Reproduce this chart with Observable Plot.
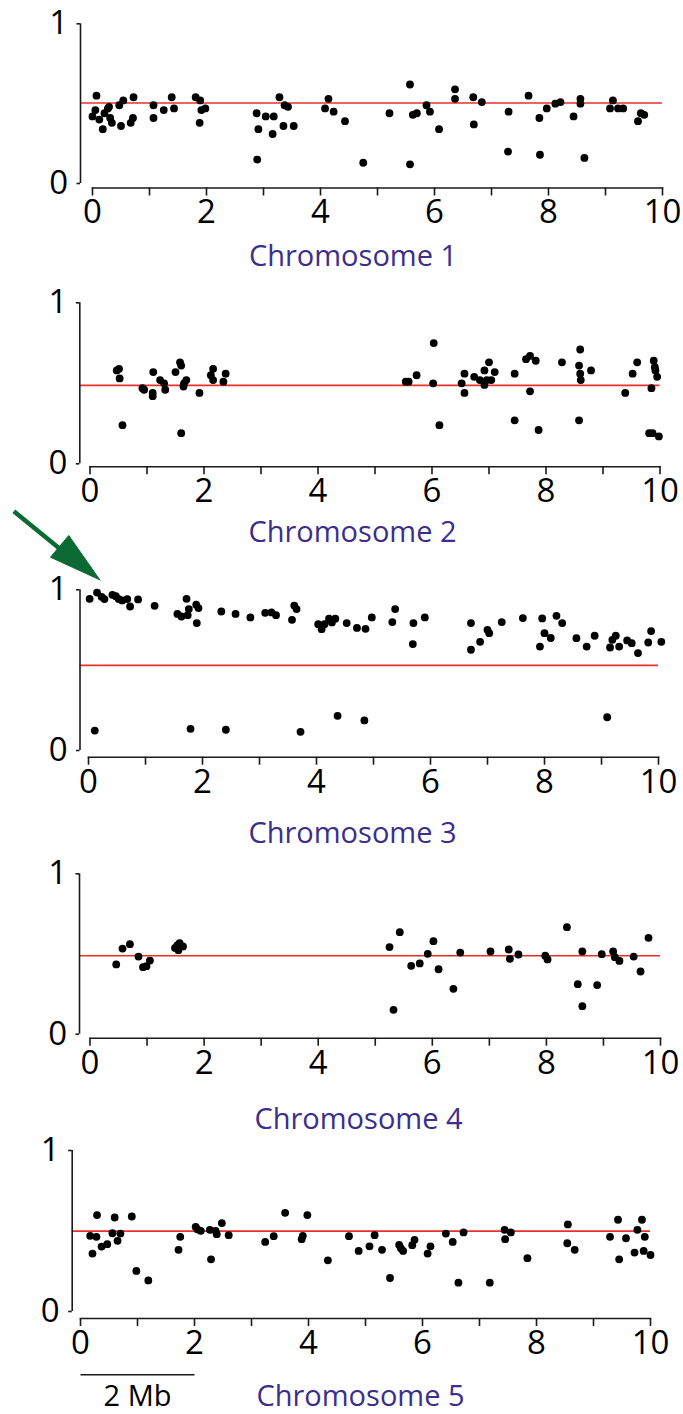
<!DOCTYPE html>
<html><head><meta charset="utf-8">
<script src="https://cdn.jsdelivr.net/npm/d3@7"></script>
<script src="https://cdn.jsdelivr.net/npm/@observablehq/plot@0.6"></script>
<style>
body{margin:0;background:#fff;}
#chart{position:relative;width:683px;height:1414px;overflow:hidden;background:#fff;}
#chart svg{position:absolute;left:0;}
</style></head><body><div id="chart"></div>
<script>
// ---------- data ----------
const chromosomes = ["Chromosome 1", "Chromosome 2", "Chromosome 3", "Chromosome 4", "Chromosome 5"];
const xTicks = [0, 1, 2, 3, 4, 5, 6, 7, 8, 9, 10];
const xTickLabels = ["0", "", "2", "", "4", "", "6", "", "8", "", "10"];
const yTicks = [0, 1];
const yTickLabels = ["0", "1"];
const thresholds = [0.504, 0.487, 0.53, 0.489, 0.499];

const chr1Pos = [0.00,0.05,0.07,0.12,0.18,0.21,0.27,0.29,0.31,0.34,0.47,0.50,0.54,0.67,0.71,0.72,1.07,1.07,1.25,1.39,1.43,1.81,1.89,1.88,1.91,1.98,2.88,2.89,2.91,3.04,3.18,3.16,3.28,3.37,3.43,3.35,3.53,4.08,4.14,4.23,4.43,4.75,5.21,5.57,5.57,5.62,5.69,5.86,5.92,6.08,6.36,6.36,6.68,6.69,6.83,7.30,7.29,7.65,7.84,7.85,7.97,8.12,8.21,8.44,8.56,8.56,8.63,9.08,9.13,9.22,9.31,9.57,9.62,9.68];
const chr1Frac = [0.42,0.46,0.55,0.40,0.34,0.44,0.47,0.48,0.41,0.38,0.49,0.36,0.52,0.38,0.41,0.54,0.49,0.41,0.46,0.54,0.47,0.54,0.52,0.38,0.46,0.47,0.44,0.15,0.34,0.42,0.42,0.31,0.54,0.49,0.48,0.36,0.36,0.47,0.53,0.45,0.39,0.13,0.44,0.62,0.12,0.43,0.44,0.49,0.45,0.34,0.59,0.53,0.54,0.37,0.51,0.45,0.20,0.55,0.41,0.18,0.47,0.50,0.51,0.42,0.53,0.50,0.16,0.47,0.52,0.47,0.47,0.39,0.44,0.43];

const chr2Pos = [0.47,0.51,0.52,0.57,0.92,0.95,1.10,1.10,1.11,1.23,1.30,1.32,1.50,1.58,1.60,1.60,1.64,1.65,1.69,1.92,2.12,2.16,2.16,2.34,2.38,5.54,5.59,5.73,6.03,6.02,6.13,6.52,6.57,6.57,6.74,6.84,6.92,6.92,6.96,7.00,7.04,7.10,7.45,7.45,7.65,7.72,7.72,7.82,7.87,8.28,8.60,8.58,8.60,8.61,8.58,8.79,9.39,9.52,9.60,9.85,9.89,9.91,9.92,9.95,9.81,9.87,9.98];
const chr2Frac = [0.58,0.59,0.53,0.24,0.47,0.46,0.44,0.42,0.57,0.52,0.50,0.46,0.57,0.63,0.61,0.19,0.48,0.50,0.52,0.44,0.55,0.59,0.52,0.51,0.56,0.51,0.51,0.55,0.75,0.50,0.24,0.50,0.56,0.44,0.54,0.52,0.58,0.49,0.52,0.63,0.52,0.57,0.56,0.27,0.65,0.67,0.45,0.64,0.21,0.63,0.71,0.61,0.56,0.52,0.27,0.58,0.44,0.56,0.63,0.47,0.64,0.60,0.58,0.54,0.19,0.19,0.17];

const chr3Pos = [0.02,0.11,0.15,0.23,0.28,0.42,0.48,0.53,0.59,0.68,0.73,0.87,1.16,1.56,1.63,1.72,1.74,1.76,1.79,1.89,1.93,1.90,2.33,2.58,2.41,2.84,3.10,3.21,3.29,3.57,3.61,3.65,3.72,4.03,4.09,4.14,4.22,4.27,4.33,4.37,4.53,4.71,4.86,4.84,4.97,5.33,5.38,5.69,5.70,5.90,6.71,6.71,6.87,7.00,7.03,7.25,7.62,7.96,7.92,8.00,8.11,8.21,8.31,8.56,8.74,8.88,9.10,9.15,9.19,9.25,9.31,9.45,9.53,9.64,9.82,9.87,10.05];
const chr3Frac = [0.944,0.124,0.983,0.956,0.942,0.969,0.96,0.942,0.934,0.942,0.896,0.94,0.90,0.85,0.834,0.944,0.842,0.88,0.135,0.907,0.886,0.793,0.865,0.85,0.129,0.828,0.857,0.859,0.842,0.813,0.902,0.88,0.116,0.786,0.755,0.786,0.82,0.797,0.82,0.216,0.793,0.763,0.757,0.187,0.828,0.799,0.88,0.662,0.793,0.828,0.793,0.627,0.676,0.751,0.73,0.799,0.824,0.822,0.647,0.73,0.70,0.838,0.793,0.699,0.647,0.714,0.207,0.641,0.689,0.714,0.647,0.685,0.668,0.606,0.672,0.743,0.676];

const chr4Pos = [0.46,0.57,0.70,0.85,0.93,0.99,1.05,1.49,1.53,1.55,1.57,1.63,5.25,5.32,5.43,5.63,5.78,5.92,6.02,6.11,6.37,6.49,7.02,7.34,7.36,7.51,7.98,8.02,8.36,8.55,8.63,8.63,8.89,8.97,9.17,9.20,9.28,9.53,9.65,9.79];
const chr4Frac = [0.435,0.534,0.561,0.484,0.418,0.424,0.459,0.538,0.553,0.524,0.568,0.547,0.543,0.152,0.636,0.426,0.441,0.501,0.58,0.405,0.283,0.509,0.516,0.528,0.47,0.497,0.489,0.466,0.667,0.312,0.516,0.175,0.306,0.499,0.516,0.48,0.457,0.484,0.391,0.601];

const chr5Pos = [0.17,0.21,0.28,0.29,0.37,0.47,0.56,0.60,0.65,0.70,0.90,0.98,1.19,1.72,1.75,2.02,2.05,2.11,2.27,2.29,2.37,2.39,2.48,2.60,3.24,3.39,3.59,3.88,3.90,3.98,4.34,4.71,4.88,5.07,5.16,5.29,5.43,5.59,5.62,5.66,5.82,5.86,6.09,6.14,6.41,6.53,6.63,6.72,7.18,7.44,7.45,7.55,7.84,8.54,8.55,8.67,9.29,9.43,9.45,9.57,9.72,9.77,9.85,9.90,9.88,10.0];
const chr5Frac = [0.47,0.36,0.464,0.599,0.403,0.418,0.486,0.584,0.439,0.484,0.59,0.252,0.193,0.383,0.464,0.526,0.511,0.501,0.507,0.324,0.501,0.48,0.549,0.474,0.432,0.468,0.613,0.449,0.47,0.599,0.318,0.468,0.376,0.405,0.474,0.383,0.208,0.414,0.393,0.376,0.412,0.445,0.36,0.405,0.484,0.432,0.179,0.491,0.179,0.507,0.449,0.491,0.331,0.424,0.541,0.383,0.464,0.57,0.324,0.455,0.366,0.507,0.57,0.464,0.376,0.351];

const positions = [chr1Pos, chr2Pos, chr3Pos, chr4Pos, chr5Pos];
const fractions = [chr1Frac, chr2Frac, chr3Frac, chr4Frac, chr5Frac];

// annotations (data units of the panel they sit in)
const arrowShaft = [{x1: -1.31, y1: 1.489, x2: -0.45, y2: 1.24}];
const arrowHead = [{x: 0.198, y: 1.062}, {x: -0.667, y: 1.203}, {x: -0.346, y: 1.338}, {x: 0.198, y: 1.062}];
const scaleBar = [{x1: 0, x2: 2, y: -0.393, label: "2 Mb"}];

// ---------- layout (page pixels) ----------
const layout = [
  {top: 0,    height: 280, y1: 23.3,   y0: 183,    off: 4.5, x0: 92,   x10: 662, yax: 80,   labelX: 352.5, labelBase: 265},
  {top: 280,  height: 275, y1: 302.3,  y0: 463.3,  off: 3,   x0: 89.5, x10: 659.5, yax: 79.3, labelX: 352, labelBase: 541},
  {top: 490,  height: 365, y1: 589.3,  y0: 750,    off: 6.7, x0: 88,   x10: 658, yax: 79.5, labelX: 352,   labelBase: 842},
  {top: 855,  height: 280, y1: 873.3,  y0: 1033.7, off: 4,   x0: 89.5, x10: 660, yax: 79,   labelX: 358,   labelBase: 1128},
  {top: 1135, height: 279, y1: 1150,   y0: 1311,   off: 7,   x0: 80,   x10: 650, yax: 71.7, labelX: 360,   labelBase: 1405}
];

const W = 683;
const axisColor = "#1a1a1a";
const chart = document.getElementById("chart");

layout.forEach((L, i) => {
  const T = L.top;
  const pts = positions[i].map((x, j) => ({x, y: fractions[i][j]}));
  const marks = [
    Plot.ruleY([thresholds[i]], {stroke: "#e8302c", strokeWidth: 1.7, insetLeft: -(L.x0 - L.yax)}),
    Plot.frame({anchor: "bottom", stroke: axisColor, strokeWidth: 1.6}),
    Plot.axisX({ticks: xTicks, tickSize: 8, tickPadding: 4, label: null, tickFormat: d => xTickLabels[xTicks.indexOf(d)], fontSize: 33, stroke: axisColor, strokeWidth: 1.6, fill: "#000"}),
    Plot.ruleX([0], {y1: 0, y2: 1, dx: L.yax - L.x0, stroke: axisColor, strokeWidth: 1.6}),
    Plot.axisY({ticks: yTicks, tickSize: 3.5, tickPadding: 9, label: null, dx: L.yax - L.x0, tickFormat: d => yTickLabels[yTicks.indexOf(d)], fontSize: 33, stroke: axisColor, strokeWidth: 1.6, fill: "#000"}),
    Plot.dot(pts, {x: "x", y: "y", r: 3.9, fill: "#000", stroke: "none"}),
    Plot.text([chromosomes[i]], {frameAnchor: "top-left", dx: L.labelX - L.x0, dy: L.labelBase - L.y1, textAnchor: "middle", lineAnchor: "bottom", fontSize: 29, fill: "#3b2e8c"})
  ];
  if (i === 2) {
    marks.push(Plot.link(arrowShaft, {x1: "x1", y1: "y1", x2: "x2", y2: "y2", stroke: "#0b6a34", strokeWidth: 4.5}));
    marks.push(Plot.line(arrowHead, {x: "x", y: "y", fill: "#0b6a34", stroke: "#0b6a34", strokeWidth: 1, curve: "linear"}));
  }
  if (i === 4) {
    marks.push(Plot.link(scaleBar, {x1: "x1", x2: "x2", y1: "y", y2: "y", stroke: axisColor, strokeWidth: 1.6}));
    marks.push(Plot.text(scaleBar, {x: d => (d.x1 + d.x2) / 2, y: "y", text: "label", dy: 31, lineAnchor: "bottom", fontSize: 29, fill: "#000"}));
  }
  const svg = Plot.plot({
    width: W,
    height: L.height,
    marginLeft: L.x0,
    marginRight: W - L.x10,
    marginTop: L.y1 - T,
    marginBottom: L.height - (L.y0 + L.off - T),
    x: {domain: [0, 10]},
    y: {domain: [0, 1], range: [L.y0 - T, L.y1 - T]},
    style: {fontFamily: "'Open Sans', sans-serif", background: "transparent", overflow: "visible", color: "#000"},
    marks
  });
  svg.style.top = T + "px";
  chart.appendChild(svg);
});
</script>
</body></html>
